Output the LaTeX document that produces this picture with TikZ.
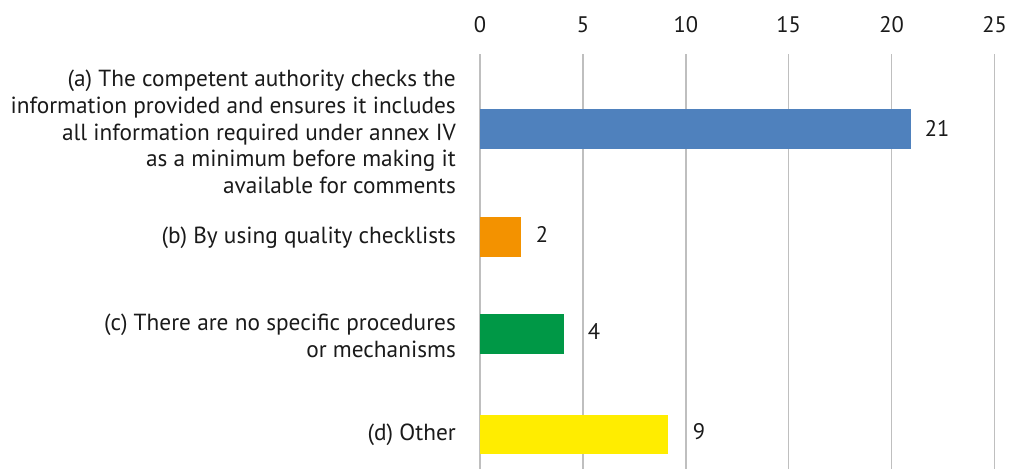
\documentclass[tikz,border=0pt]{standalone}
\usepackage{fontspec}
\setmainfont{PT Sans}
\definecolor{gridgray}{HTML}{BFBFBF}
\definecolor{barblue}{HTML}{4F81BD}
\definecolor{barorange}{HTML}{F39200}
\definecolor{bargreen}{HTML}{009846}
\definecolor{baryellow}{HTML}{FFED00}
\definecolor{txt}{HTML}{1A1A1A}
\begin{document}
\begin{tikzpicture}[x=1pt,y=-1pt,
  gridline/.style={draw=gridgray,line width=1.4pt},
  tick/.style={text=txt,font=\fontsize{22.5}{26}\selectfont,inner sep=0pt},
  bar/.style={draw=none,anchor=west,minimum height=39.5pt,inner sep=0pt},
  cat/.style={anchor=east,align=right,text=txt,inner sep=0pt,font=\fontsize{23.3}{26.7}\selectfont},
  val/.style={text=txt,font=\fontsize{22.5}{26}\selectfont,inner sep=0pt}]
\useasboundingbox (0,0) rectangle (1009,469);
\foreach \v in {0,5,...,25}{
  \coordinate (gt\v) at (480+\v*20.58,54);
  \coordinate (gb\v) at (480+\v*20.58,469);
  \draw[gridline] (gt\v) -- (gb\v);
  \node[tick] (t\v) at (480+\v*20.58,25) {\v};
}
\node[bar,fill=barblue,minimum width=431pt] (ba) at (480,129) {};
\node[bar,fill=barorange,minimum width=41pt] (bb) at (480,237) {};
\node[bar,fill=bargreen,minimum width=84pt] (bc) at (480,334) {};
\node[bar,fill=baryellow,minimum width=188pt] (bd) at (480,434.5) {};
\node[val] (va) at (937,128) {21};
\node[val] (vb) at (542,234) {2};
\node[val] (vc) at (594,331) {4};
\node[val] (vd) at (699,432) {9};
\node[cat] (ca) at (456,132) {(a) The competent authority checks the\\information provided and ensures it includes\\all information required under annex IV\\as a minimum before making it\\available for comments};
\node[cat] (cb) at (456,238) {(b) By using quality checklists};
\node[cat] (cc) at (456,336) {(c) There are no specific procedures\\or mechanisms};
\node[cat] (cd) at (456,435) {(d) Other};
\end{tikzpicture}
\end{document}
